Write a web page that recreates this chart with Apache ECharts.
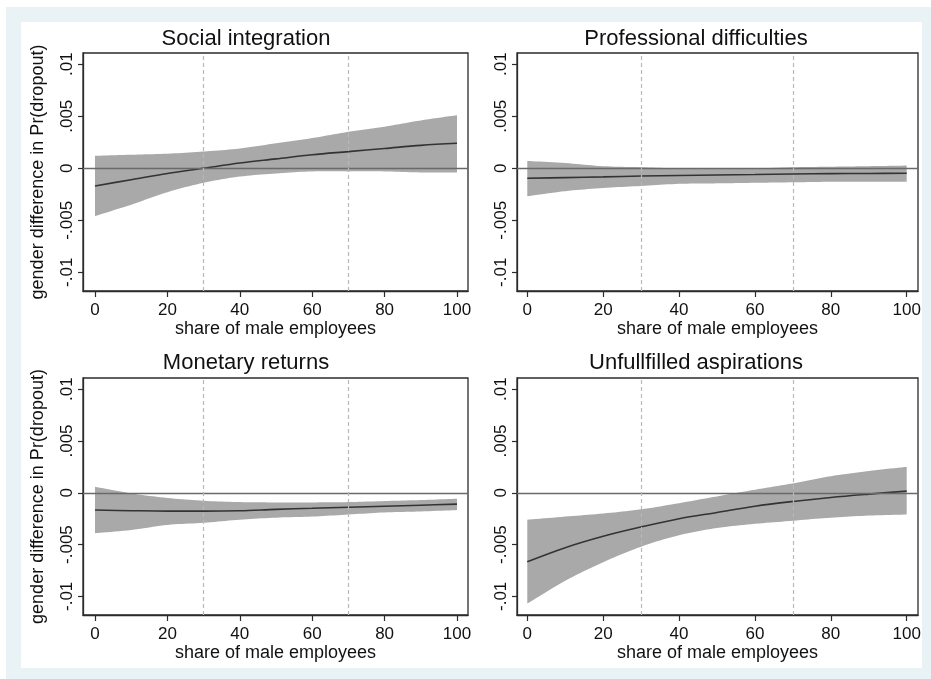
<!DOCTYPE html>
<html>
<head>
<meta charset="utf-8">
<script src="https://cdn.jsdelivr.net/npm/echarts@6/dist/echarts.min.js"></script>
<style>
  html, body { margin: 0; padding: 0; background: #ffffff; }
  #wrap { position: relative; width: 931px; height: 679px; overflow: hidden; background: #ffffff; }
  #outer { position: absolute; left: 6px; top: 7px; width: 925px; height: 672px; background: #e9f3f6; }
  #inner { position: absolute; left: 21px; top: 22px; width: 901px; height: 646px; background: #ffffff; }
  #chart { position: absolute; left: 0; top: 0; width: 931px; height: 679px; }
</style>
</head>
<body>
<div id="wrap">
  <div id="outer"></div>
  <div id="inner"></div>
  <div id="chart"></div>
</div>
<script>
// ---- data ----
const panelTitles = ['Social integration', 'Professional difficulties', 'Monetary returns', 'Unfullfilled aspirations'];
const xTitle = 'share of male employees';
const yTitle = 'gender difference in Pr(dropout)';
const xTickValues = [0, 20, 40, 60, 80, 100];
const yTickValues = [-0.01, -0.005, 0, 0.005, 0.01];
const yTickLabels = ['-.01', '-.005', '0', '.005', '.01'];
const refLinesX = [30, 70];

const xs = [0, 10, 20, 30, 40, 50, 60, 70, 80, 90, 100];

const socialEst   = [-0.0017, -0.0011, -0.0005, 0.0000, 0.0005, 0.0009, 0.0013, 0.0016, 0.0019, 0.0022, 0.0024];
const socialUpper = [0.0012, 0.0013, 0.0014, 0.0016, 0.0019, 0.0024, 0.0029, 0.0035, 0.0040, 0.0046, 0.0051];
const socialLower = [-0.0046, -0.0035, -0.0023, -0.0014, -0.0008, -0.0005, -0.0003, -0.0003, -0.0003, -0.0004, -0.0004];

const profEst   = [-0.00096, -0.0009, -0.00083, -0.00075, -0.0007, -0.00065, -0.0006, -0.00055, -0.00052, -0.0005, -0.00048];
const profUpper = [0.0007, 0.0005, 0.0002, 0.0001, 0.0000, 0.0000, 0.0000, 0.0001, 0.00015, 0.0002, 0.00026];
const profLower = [-0.0027, -0.0022, -0.0019, -0.0017, -0.0015, -0.00145, -0.0014, -0.00135, -0.0013, -0.0013, -0.0013];

const monEst   = [-0.00167, -0.00173, -0.00177, -0.00177, -0.00173, -0.0016, -0.0015, -0.0014, -0.0013, -0.0012, -0.0011];
const monUpper = [0.00058, -0.00006, -0.0005, -0.00077, -0.0009, -0.00093, -0.00093, -0.0009, -0.0008, -0.0007, -0.00058];
const monLower = [-0.0039, -0.0036, -0.0031, -0.0029, -0.0026, -0.0024, -0.0023, -0.0021, -0.0019, -0.0018, -0.00167];

const aspEst   = [-0.00666, -0.0053, -0.0042, -0.0033, -0.0025, -0.0019, -0.0013, -0.00084, -0.00045, -0.00013, 0.00016];
const aspUpper = [-0.0026, -0.0023, -0.002, -0.0016, -0.001, -0.00035, 0.0003, 0.0009, 0.0016, 0.0021, 0.0025];
const aspLower = [-0.0107, -0.0085, -0.0067, -0.0052, -0.0041, -0.0034, -0.003, -0.0027, -0.0024, -0.0022, -0.0021];

const panels = [
  { est: socialEst, upper: socialUpper, lower: socialLower },
  { est: profEst, upper: profUpper, lower: profLower },
  { est: monEst, upper: monUpper, lower: monLower },
  { est: aspEst, upper: aspUpper, lower: aspLower }
];

// ---- layout / style ----
const FONT = '"Liberation Sans", Arial, sans-serif';
const grids = [
  { left: 83, top: 53, width: 385, height: 238 },
  { left: 517, top: 53, width: 401, height: 238 },
  { left: 83, top: 378, width: 385, height: 237 },
  { left: 517, top: 378, width: 401, height: 237 }
];
const xRanges = [[-3.31, 103.04], [-2.71, 102.98], [-3.31, 103.04], [-2.71, 102.98]];
const yRange = [-0.0118, 0.01108];
const titlePos = [[246, 39], [696, 39], [246, 363], [696, 363]];

function yLabel(v) {
  for (let i = 0; i < yTickValues.length; i++) {
    if (Math.abs(v - yTickValues[i]) < 1e-9) return yTickLabels[i];
  }
  return '';
}

// Catmull-Rom smoothing of pixel points (visual smoothing between data points)
function smoothPts(pts) {
  const out = [];
  const n = pts.length;
  for (let i = 0; i < n - 1; i++) {
    const p0 = pts[Math.max(0, i - 1)], p1 = pts[i], p2 = pts[i + 1], p3 = pts[Math.min(n - 1, i + 2)];
    const steps = 10;
    for (let s = 0; s < steps; s++) {
      const t = s / steps, t2 = t * t, t3 = t2 * t;
      const f = (a, b, c, d) => 0.5 * ((2 * b) + (-a + c) * t + (2 * a - 5 * b + 4 * c - d) * t2 + (-a + 3 * b - 3 * c + d) * t3);
      out.push([f(p0[0], p1[0], p2[0], p3[0]), f(p0[1], p1[1], p2[1], p3[1])]);
    }
  }
  out.push(pts[n - 1]);
  return out;
}

const option = {
  animation: false,
  textStyle: { fontFamily: FONT },
  grid: grids.map(g => Object.assign({ show: true, borderColor: '#2b2b2b', borderWidth: 1.3, backgroundColor: 'transparent' }, g)),
  xAxis: grids.map((g, i) => ({
    gridIndex: i, type: 'value', min: xRanges[i][0], max: xRanges[i][1],
    axisLine: { show: true, onZero: false, lineStyle: { color: '#2b2b2b', width: 1.3 } },
    axisTick: { show: true, length: 6, customValues: xTickValues, lineStyle: { color: '#2b2b2b', width: 1.2 } },
    axisLabel: { customValues: xTickValues, fontSize: 17, color: '#111', margin: 11, fontFamily: FONT },
    splitLine: { show: false },
    name: xTitle, nameLocation: 'middle', nameGap: 29,
    nameTextStyle: { fontSize: 18, color: '#111', fontFamily: FONT }
  })),
  yAxis: grids.map((g, i) => ({
    gridIndex: i, type: 'value', min: yRange[0], max: yRange[1],
    axisLine: { show: true, onZero: false, lineStyle: { color: '#2b2b2b', width: 1.3 } },
    axisTick: { show: true, length: 5, customValues: yTickValues, lineStyle: { color: '#2b2b2b', width: 1.2 } },
    axisLabel: { customValues: yTickValues, rotate: 90, fontSize: 17, color: '#111', margin: 7, fontFamily: FONT, formatter: yLabel },
    splitLine: { show: false },
    name: (i % 2 === 0) ? yTitle : '', nameLocation: 'middle', nameGap: 36,
    nameTextStyle: { fontSize: 18, color: '#111', fontFamily: FONT }
  })),
  graphic: panelTitles.map((t, i) => ({
    type: 'text', x: titlePos[i][0], y: titlePos[i][1], silent: true,
    style: { text: t, align: 'center', verticalAlign: 'middle', font: '22px ' + FONT, fill: '#111' }
  })),
  series: []
};

panels.forEach((p, i) => {
  // confidence band as a polygon through the axis scales
  option.series.push({
    type: 'custom', xAxisIndex: i, yAxisIndex: i, silent: true, z: 2, clip: true,
    data: xs.map((x, k) => [x, p.lower[k], p.upper[k]]),
    encode: { x: 0, y: [1, 2] },
    renderItem: function (params, api) {
      if (params.dataIndex !== 0) return null;
      const up = xs.map((x, k) => api.coord([x, p.upper[k]]));
      const lo = xs.map((x, k) => api.coord([x, p.lower[k]]));
      const pts = smoothPts(up).concat(smoothPts(lo).reverse());
      return { type: 'polygon', shape: { points: pts }, style: { fill: '#a9a9a9', stroke: null } };
    }
  });
  option.series.push({
    type: 'line', xAxisIndex: i, yAxisIndex: i, data: [], symbol: 'none', z: 3, silent: true,
    markLine: {
      silent: true, symbol: 'none', label: { show: false }, animation: false,
      data: [
        { yAxis: 0, lineStyle: { color: '#6a6a6a', width: 1.3, type: 'solid' } },
        { xAxis: refLinesX[0], lineStyle: { color: '#b8b8b8', width: 1.2, type: [4, 3] } },
        { xAxis: refLinesX[1], lineStyle: { color: '#b8b8b8', width: 1.2, type: [4, 3] } }
      ]
    }
  });
  option.series.push({
    type: 'line', xAxisIndex: i, yAxisIndex: i, data: xs.map((x, k) => [x, p.est[k]]),
    symbol: 'none', smooth: 0.35, lineStyle: { color: '#333333', width: 1.6 }, z: 4, silent: true
  });
});

const chart = echarts.init(document.getElementById('chart'), null, { renderer: 'canvas' });
chart.setOption(option);
</script>
</body>
</html>
